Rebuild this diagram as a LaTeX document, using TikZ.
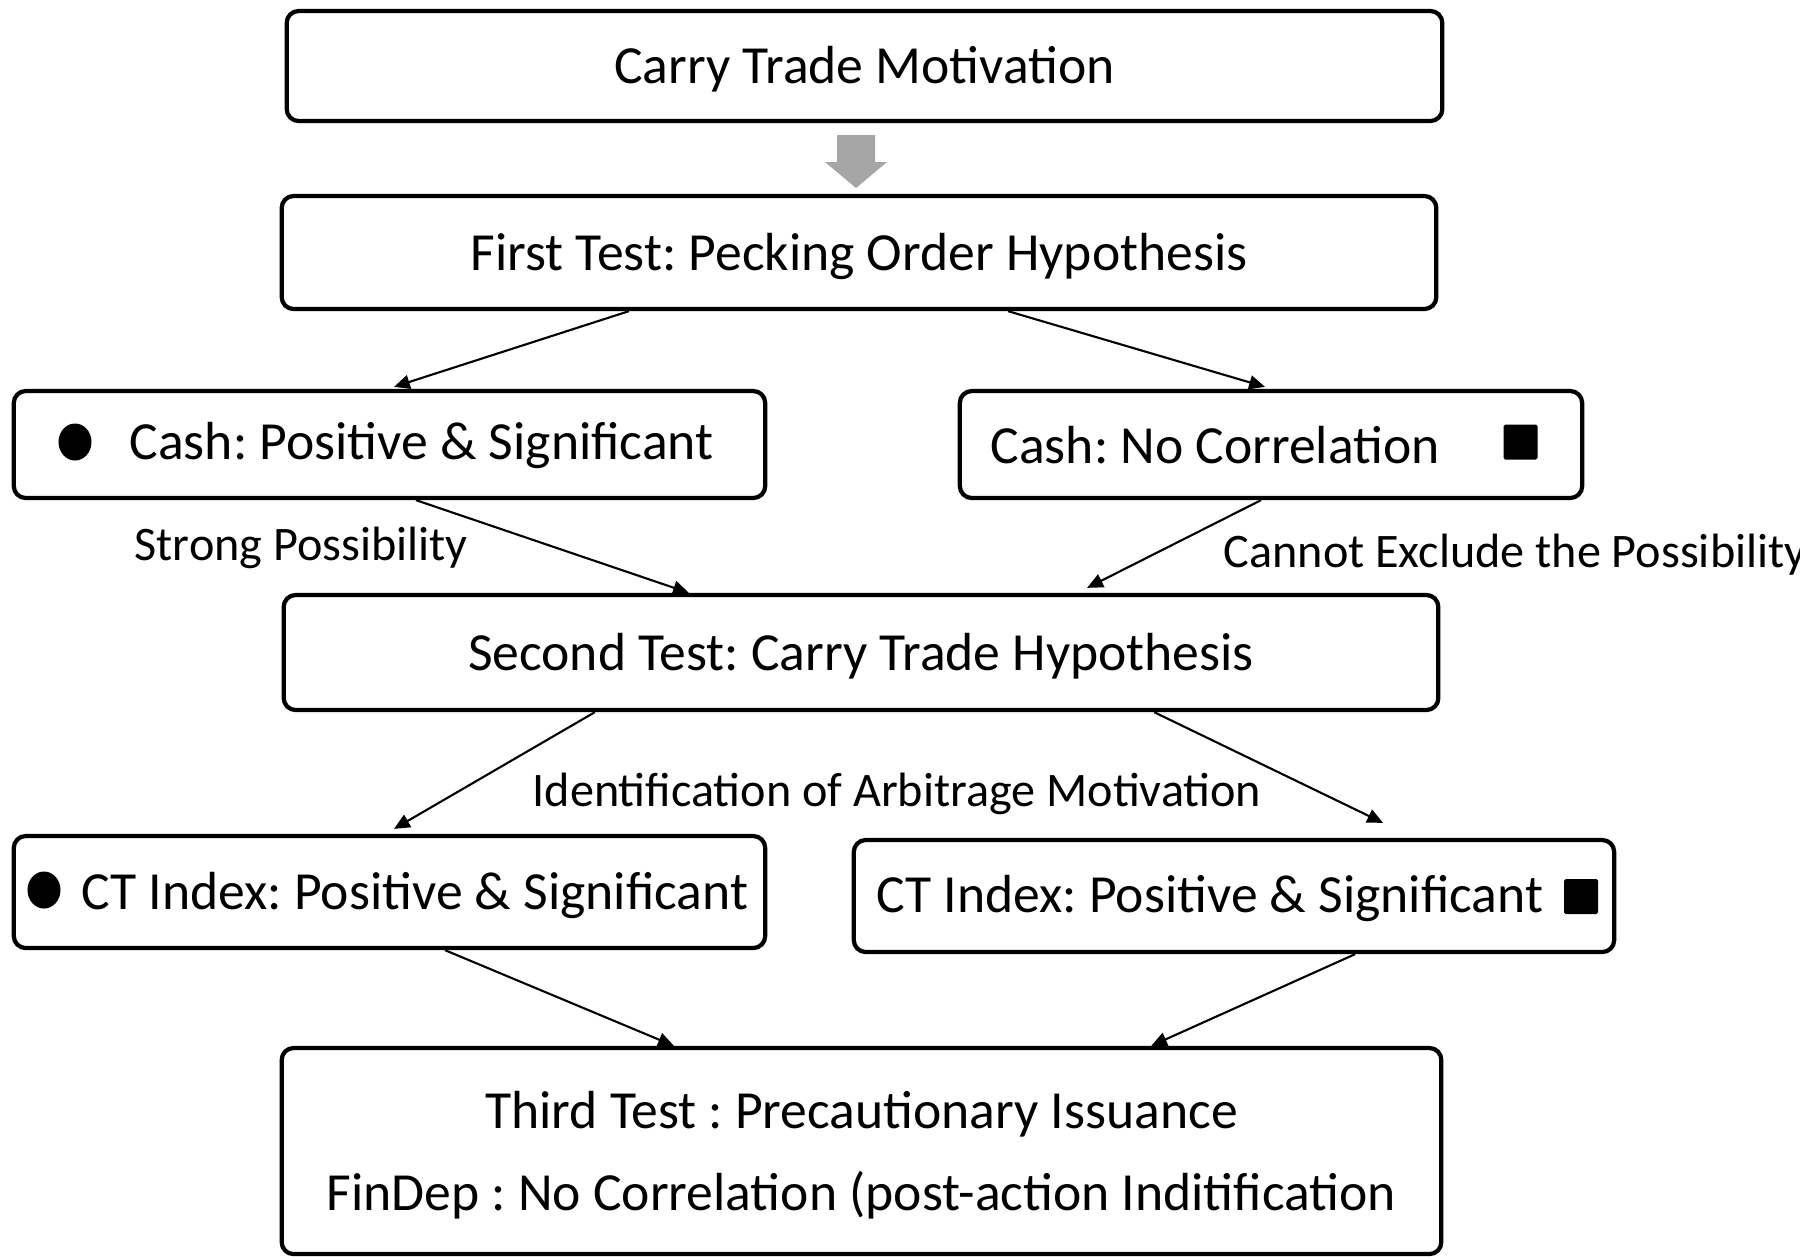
\documentclass[tikz,border=0pt]{standalone}
\usepackage{fontspec}
\setmainfont{Carlito}
\usetikzlibrary{arrows.meta,calc,shapes.geometric}
\frenchspacing
\newcommand{\lowertxt}[1]{\raisebox{-0.035cm}[\height][\depth]{#1}}
\begin{document}
\frenchspacing
\begin{tikzpicture}[x=0.01cm,y=-0.01cm,
  box/.style={draw,line width=1.2pt,rounded corners=0.12cm,inner sep=0pt,fill=white},
  boxtxt/.style={font=\fontsize{15.25}{18}\selectfont,inner sep=0pt},
  lbl/.style={font=\fontsize{13.7}{16}\selectfont,inner sep=0pt,anchor=west},
  conn/.style={line width=0.6pt,-{Triangle[length=4.5pt,width=4pt]}},
  dotmark/.style={fill=black,ellipse,inner sep=0pt,minimum width=0.33cm,minimum height=0.37cm},
  sqmark/.style={fill=black,rounded corners=0.5pt,inner sep=0pt,minimum width=0.34cm,minimum height=0.35cm}]
\useasboundingbox (0,0) rectangle (1800,1256);
\fill[white] (0,0) rectangle (1800,1256);

% boxes
\node[box,boxtxt,minimum width=11.55cm,minimum height=1.10cm] (b1) at (864.5,66) {\lowertxt{Carry Trade Motivation}};
\node[box,boxtxt,minimum width=11.54cm,minimum height=1.13cm] (b2) at (859,252.5) {\lowertxt{First Test: Pecking Order Hypothesis}};
\node[box,minimum width=7.51cm,minimum height=1.07cm] (b3) at (389.5,444.5) {};
\node[box,minimum width=6.22cm,minimum height=1.07cm] (b4) at (1271,444.5) {};
\node[box,boxtxt,minimum width=11.54cm,minimum height=1.15cm] (b5) at (861,652.5) {\lowertxt{Second Test: Carry Trade Hypothesis}};
\node[box,minimum width=7.51cm,minimum height=1.12cm] (b6) at (389.5,892) {};
\node[box,minimum width=7.60cm,minimum height=1.12cm] (b7) at (1234,896) {};
\node[box,minimum width=11.59cm,minimum height=2.06cm] (b8) at (861.5,1151) {};

% texts inside boxes
\node[boxtxt,anchor=west] (t3) at (129,445.5) {Cash: Positive \& Significant};
\node[dotmark] (m3) at (75,442) {};
\node[boxtxt,anchor=west] (t4) at (990,445.5) {Cash: No Correlation};
\node[sqmark] (m4) at (1520.5,442) {};
\node[boxtxt,anchor=west] (t6) at (81,895.5) {CT Index: Positive \& Significant};
\node[dotmark] (m6) at (44,890) {};
\node[boxtxt,anchor=west] (t7) at (876,898.5) {CT Index: Positive \& Significant};
\node[sqmark] (m7) at (1581,896.5) {};
\node[boxtxt] (t8a) at (861.5,1114.5) {Third Test : Precautionary Issuance};
\node[boxtxt] (t8b) at (861.5,1195) {FinDep : No Correlation (post-action Inditification};

% gray block arrow
\fill[fill={rgb,255:red,166;green,166;blue,166}] (837,135) -- (875,135) -- (875,162) -- (887,162) -- (856,188) -- (825,162) -- (837,162) -- cycle;

% connectors
\draw[conn] ([xshift=-2.30cm]b2.south) -- ([xshift=0.045cm,yshift=0.02cm]b3.north);
\draw[conn] ([xshift=1.49cm]b2.south) -- ([xshift=-0.06cm,yshift=0.02cm]b4.north);
\draw[conn] ([xshift=0.265cm]b3.south) -- ([xshift=-1.72cm]b5.north);
\draw[conn] ([xshift=-0.10cm]b4.south) -- ([xshift=2.26cm,yshift=0.05cm]b5.north);
\draw[conn] ([xshift=-2.66cm]b5.south) -- ([xshift=0.045cm,yshift=0.05cm]b6.north);
\draw[conn] ([xshift=2.93cm]b5.south) -- ([xshift=1.49cm,yshift=0.15cm]b7.north);
\draw[conn] ([xshift=0.555cm]b6.south) -- ([xshift=-1.875cm]b8.north);
\draw[conn] ([xshift=1.21cm]b7.south) -- ([xshift=2.895cm]b8.north);

% labels
\node[lbl] (l1) at (134,547.5) {Strong Possibility};
\node[lbl] (l2) at (1223,554.5) {Cannot Exclude the Possibility};
\node[lbl] (l3) at (532,793.5) {Identification of Arbitrage Motivation};
\end{tikzpicture}
\end{document}
